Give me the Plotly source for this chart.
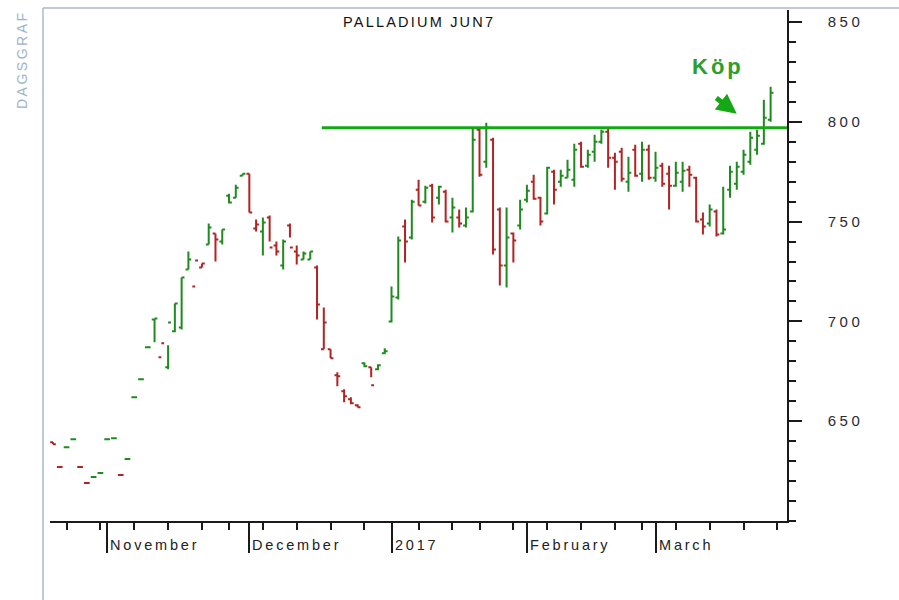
import plotly.graph_objects as go
from datetime import date

# ---------------- data ----------------
dates = [
    "2016-10-20", "2016-10-21", "2016-10-24", "2016-10-25", "2016-10-26", "2016-10-27", "2016-10-28", "2016-10-31",
    "2016-11-01", "2016-11-02", "2016-11-03", "2016-11-04", "2016-11-07", "2016-11-08", "2016-11-09", "2016-11-10",
    "2016-11-11", "2016-11-14", "2016-11-15", "2016-11-16", "2016-11-17", "2016-11-18", "2016-11-21", "2016-11-22",
    "2016-11-23", "2016-11-25", "2016-11-28", "2016-11-29", "2016-11-30",
    "2016-12-01", "2016-12-02", "2016-12-05", "2016-12-06", "2016-12-07", "2016-12-08", "2016-12-09", "2016-12-12",
    "2016-12-13", "2016-12-14", "2016-12-15", "2016-12-16", "2016-12-19", "2016-12-20", "2016-12-21", "2016-12-22",
    "2016-12-23", "2016-12-27", "2016-12-28", "2016-12-29", "2016-12-30",
    "2017-01-03", "2017-01-04", "2017-01-05", "2017-01-06", "2017-01-09", "2017-01-10", "2017-01-11", "2017-01-12",
    "2017-01-13", "2017-01-17", "2017-01-18", "2017-01-19", "2017-01-20", "2017-01-23", "2017-01-24", "2017-01-25",
    "2017-01-26", "2017-01-27", "2017-01-30", "2017-01-31",
    "2017-02-01", "2017-02-02", "2017-02-03", "2017-02-06", "2017-02-07", "2017-02-08", "2017-02-09", "2017-02-10",
    "2017-02-13", "2017-02-14", "2017-02-15", "2017-02-16", "2017-02-17", "2017-02-21", "2017-02-22", "2017-02-23",
    "2017-02-24", "2017-02-27", "2017-02-28",
    "2017-03-01", "2017-03-02", "2017-03-03", "2017-03-06", "2017-03-07", "2017-03-08", "2017-03-09", "2017-03-10",
    "2017-03-13", "2017-03-14", "2017-03-15", "2017-03-16", "2017-03-17", "2017-03-20", "2017-03-21", "2017-03-22",
    "2017-03-23", "2017-03-24",
]

opens = [
    639.5, 627, 637, 641, 627, 619, 622, 624, 641, 641.5, 623, 631, 662, 671, 687,
    701, 682, 677, 695, 697, 726, 717.5, 727, 738.5, 744, 740, 763, 762, 773, 774,
    746.5, 745, 752, 738, 728, 748, 735, 731, 731, 727, 686, 686, 673, 665, 661,
    658, 679, 677, 676, 684, 700, 712, 747.5, 742, 766, 760, 768, 762, 765, 752,
    752, 748, 755, 796, 780, 791, 756, 728, 744, 748, 761, 770, 762, 754, 775,
    770, 772, 771, 789, 778, 785, 790, 795, 782, 785, 770, 786, 774, 786, 772,
    778, 774, 768, 770, 776, 772, 751, 749, 755, 744, 766, 769, 775, 780, 786,
    789, 801,
]
highs = [
    639.5, 627, 637, 641, 627, 619, 622, 624, 641, 641.5, 623, 631, 662, 671, 687,
    701.5, 689, 688, 709, 722, 735, 730.5, 729, 749, 744, 746, 764, 768.5, 774, 774,
    751, 752, 753, 740, 741, 749, 738, 735, 735, 728, 707, 686, 674.5, 666, 662,
    658.5, 679.5, 677, 678.5, 686.5, 717.5, 742.5, 751, 761, 771, 768, 769, 768, 766, 762,
    756, 757, 797, 797, 799.5, 792, 757, 757, 744.5, 761, 768.5, 773.5, 762.5, 777.5, 776,
    776, 781, 789, 790, 786, 793.5, 796, 796.5, 784.5, 787, 782.5, 788.5, 790, 788.5, 785,
    779.5, 778, 780, 780, 778, 772.5, 754.5, 758.5, 756, 767.5, 778, 780, 786, 795, 796,
    811, 817.5,
]
lows = [
    638.5, 627, 637, 641, 627, 619, 622, 624, 641, 641.5, 623, 631, 662, 671, 687,
    689.5, 689, 676, 694.5, 696, 726, 730.5, 727, 738.5, 730, 738.5, 759, 762, 773, 754.5,
    745, 733, 740, 733, 726, 742, 728.5, 731, 731, 701, 686, 681.5, 667.5, 659.5, 658.5,
    657, 677, 672, 675.5, 683.5, 699.5, 711, 729.5, 741, 758, 759, 749.5, 758.5, 749.5, 744.5,
    747, 747, 754.5, 772.5, 777, 733.5, 718, 717, 729.5, 746, 759.5, 761, 748, 753.5, 758.5,
    767.5, 772, 767.5, 777, 777, 780, 789, 777, 766, 770, 765, 772.5, 770, 771, 770,
    767.5, 756, 767.5, 765, 767.5, 749.5, 743.5, 747.5, 742.5, 743.5, 762, 766, 773.5, 778.5, 783.5,
    788.5, 800,
]
closes = [
    638.5, 627, 637, 641, 627, 619, 622, 624, 641, 641.5, 623, 631, 662, 671, 687,
    701.5, 689, 699.5, 709, 722, 731, 730.5, 729, 747, 741, 746, 759.5, 767, 774, 754.5,
    748.5, 749.5, 737, 735, 740, 737, 733, 734, 735, 708.5, 699.5, 681.5, 672.5, 662.5, 659,
    657, 677.5, 668, 678, 685, 712.5, 740.5, 740, 760, 758, 767, 752, 767.5, 750, 757,
    749, 752, 791, 773.5, 797, 736, 728, 742, 740.5, 756, 765.5, 761.5, 750, 777, 766,
    773, 776, 786, 777.5, 783.5, 790, 795, 782, 780, 771.5, 774.5, 773, 786, 772, 777,
    769, 768, 774.5, 775.5, 773.5, 750, 747.5, 756, 743.5, 746, 775, 777.5, 783.5, 792, 793,
    802, 814.5,
]

month_labels = ["November", "December", "2017", "February", "March"]
y_ticks = [650, 700, 750, 800, 850]
buy_level = 797
buy_line_start = "2016-12-16"
chart_title = "PALLADIUM JUN7"
side_label = "DAGSGRAF"
buy_text = "Köp"

# ---------------- derived ----------------
GREEN = "#1f8a1f"
RED = "#b02424"
LINE_GREEN = "#14a814"
AXIS = "#1a1a1a"
FONT = "Liberation Sans, Arial, sans-serif"

idx = list(range(len(dates)))
dts = [date.fromisoformat(d) for d in dates]
up = [closes[i] >= (closes[i - 1] if i > 0 else opens[i]) for i in idx]

month_starts = [i for i in idx if i > 0 and dts[i].month != dts[i - 1].month]
week_starts = [i for i in idx if i > 0 and dts[i].isocalendar()[1] != dts[i - 1].isocalendar()[1]]
week_starts.append(len(dates))  # next Monday after the last session (axis runs past it)

X_RANGE = [-0.443, 108.42]
Y_RANGE = [600, 856]


def spaced(t, px):
    return f'<span style="letter-spacing:{px}px">{t}</span>'


fig = go.Figure()
for flag, col in [(True, GREEN), (False, RED)]:
    sel = [i for i in idx if up[i] == flag]
    fig.add_trace(go.Ohlc(
        x=sel,
        open=[opens[i] for i in sel],
        high=[highs[i] for i in sel],
        low=[lows[i] for i in sel],
        close=[closes[i] for i in sel],
        increasing=dict(line=dict(color=col, width=2)),
        decreasing=dict(line=dict(color=col, width=2)),
        line=dict(width=2),
        tickwidth=0.42,
        hoverinfo="skip",
        showlegend=False,
    ))

# buy level line
fig.add_shape(type="line", xref="x", yref="y",
              x0=dates.index(buy_line_start) - 0.3, x1=X_RANGE[1],
              y0=buy_level, y1=buy_level,
              line=dict(color=LINE_GREEN, width=3))

# outer frame lines
frame = "#a9b9ca"
fig.add_shape(type="line", xref="paper", yref="paper", x0=-0.0095, x1=-0.0095, y0=-0.16, y1=1.004,
              line=dict(color=frame, width=1.5))
fig.add_shape(type="line", xref="paper", yref="paper", x0=-0.0095, x1=1.16, y0=1.004, y1=1.004,
              line=dict(color=frame, width=1.5))

# title
fig.add_annotation(text=spaced(chart_title, 2.2), xref="paper", yref="paper", x=0.5, y=0.9765,
                   showarrow=False, xanchor="center", yanchor="middle",
                   font=dict(family=FONT, size=14.5, color="#111111"))
# side label
fig.add_annotation(text=spaced(side_label, 2.5), xref="paper", yref="paper", x=-0.038, y=0.904,
                   textangle=-90, showarrow=False, xanchor="center", yanchor="middle",
                   font=dict(family=FONT, size=14, color="#9db3c8"))
# month labels
for ms, lab in zip(month_starts, month_labels):
    fig.add_annotation(text=spaced(lab, 2.8), xref="x", yref="paper", x=ms, y=-0.047,
                       showarrow=False, xanchor="left", yanchor="middle", xshift=1,
                       font=dict(family=FONT, size=14.5, color="#222222"))
# buy signal
fig.add_annotation(text="<b>" + spaced(buy_text, 3) + "</b>", xref="x", yref="y", x=98.3, y=827.5,
                   showarrow=False, xanchor="center", yanchor="middle",
                   font=dict(family=FONT, size=22, color="#2aa02a"))
fig.add_annotation(text="", xref="x", yref="y", x=101.0, y=804, ax=-22, ay=-17,
                   showarrow=True, arrowhead=2, arrowwidth=5, arrowsize=0.8,
                   arrowcolor=LINE_GREEN, standoff=0)

fig.update_layout(
    width=899, height=600,
    margin=dict(l=50, r=112, t=10, b=79),
    paper_bgcolor="white", plot_bgcolor="white",
    xaxis=dict(
        range=X_RANGE, showgrid=False, zeroline=False,
        showline=True, linecolor=AXIS, linewidth=2,
        tickmode="array", tickvals=month_starts, ticks="outside", ticklen=30,
        tickwidth=1.5, tickcolor=AXIS, showticklabels=False,
        minor=dict(tickmode="array", tickvals=week_starts, ticks="outside", ticklen=7,
                   tickwidth=1.5, tickcolor=AXIS),
        rangeslider=dict(visible=False), fixedrange=True,
    ),
    yaxis=dict(
        side="right", range=Y_RANGE, showgrid=False, zeroline=False,
        showline=True, linecolor=AXIS, linewidth=1.5,
        tickmode="array", tickvals=y_ticks, ticktext=[spaced(v, 3.5) for v in y_ticks],
        ticks="outside", ticklen=13, tickwidth=1.5, tickcolor=AXIS,
        minor=dict(tickmode="linear", tick0=600, dtick=10, ticks="outside", ticklen=7,
                   tickwidth=1.5, tickcolor=AXIS),
        ticklabelstandoff=23,
        tickfont=dict(family=FONT, size=15, color="#2a2a35"),
        fixedrange=True,
    ),
)

fig.write_html("out.html")
